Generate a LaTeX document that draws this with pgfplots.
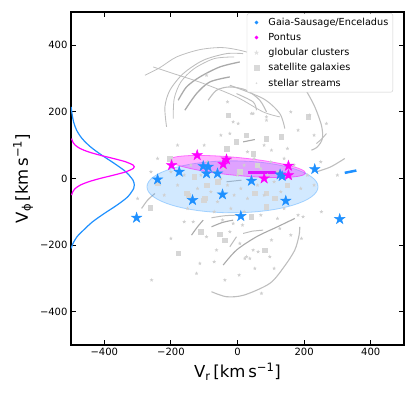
\documentclass[border=0pt]{standalone}
\usepackage{fontspec}
\setmainfont{DejaVu Sans}
\usepackage{pgfplots}
\pgfplotsset{compat=1.18}
\definecolor{gse}{RGB}{30,144,255}
\definecolor{pontus}{RGB}{255,0,255}
\definecolor{gclr}{RGB}{208,208,208}
\definecolor{sat}{RGB}{214,214,214}
\definecolor{strm}{RGB}{190,190,190}
\definecolor{strmd}{RGB}{170,170,170}

% filled five-pointed star, like matplotlib's '*'
\pgfdeclareplotmark{fstar}{%
  \pgfpathmoveto{\pgfpointpolar{90}{\pgfplotmarksize}}%
  \pgfpathlineto{\pgfpointpolar{126}{0.382*\pgfplotmarksize}}%
  \pgfpathlineto{\pgfpointpolar{162}{\pgfplotmarksize}}%
  \pgfpathlineto{\pgfpointpolar{198}{0.382*\pgfplotmarksize}}%
  \pgfpathlineto{\pgfpointpolar{234}{\pgfplotmarksize}}%
  \pgfpathlineto{\pgfpointpolar{270}{0.382*\pgfplotmarksize}}%
  \pgfpathlineto{\pgfpointpolar{306}{\pgfplotmarksize}}%
  \pgfpathlineto{\pgfpointpolar{342}{0.382*\pgfplotmarksize}}%
  \pgfpathlineto{\pgfpointpolar{18}{\pgfplotmarksize}}%
  \pgfpathlineto{\pgfpointpolar{54}{0.382*\pgfplotmarksize}}%
  \pgfpathclose\pgfusepathqfillstroke}

\begin{document}
\begin{tikzpicture}
\useasboundingbox (-71pt,-50pt) rectangle (344pt,345pt);
\begin{axis}[
    at={(0,0)}, anchor=south west,
    width=333pt, height=333pt, scale only axis,
    xmin=-500, xmax=500, ymin=-500, ymax=500,
    xtick={-400,-200,0,200,400}, ytick={-400,-200,0,200,400},
    xticklabels={−400,−200,0,200,400},
    yticklabels={−400,−200,0,200,400},
    tick align=inside, tick pos=both,
    major tick length=5pt,
    tick style={black, line width=0.8pt},
    axis line style={black, line width=1.6pt},
    tick label style={font=\fontsize{10}{12}\selectfont},
    label style={font=\fontsize{16.5}{18}\selectfont},
    xlabel={V\textsubscript{r}\,[km\,s\textsuperscript{−1}]},
    ylabel={V\textsubscript{ϕ}\,[km\,s\textsuperscript{−1}]},
    legend cell align=left,
    legend image code/.code={\path[draw=none,fill=none] (-3pt,0) (14pt,0);
        \path[draw=none] plot[#1] coordinates {(4pt,0)};},
    legend style={at={(0.967,0.996)}, anchor=north east, draw=black!20,
        rounded corners=2pt, fill=white, inner sep=2.5pt,
        font=\fontsize{9.7}{11.6}\selectfont, row sep=2.4pt},
]
% legend entries
\addlegendimage{only marks, mark=*, mark size=1.6pt, gse}
\addlegendentry{Gaia-Sausage/Enceladus}
\addlegendimage{only marks, mark=*, mark size=1.6pt, pontus}
\addlegendentry{Pontus}
\addlegendimage{only marks, mark=fstar, mark size=2pt, black!12}
\addlegendentry{globular clusters}
\addlegendimage{only marks, mark=square*, mark size=2.5pt, black!15}
\addlegendentry{satellite galaxies}
\addlegendimage{only marks, mark=*, mark size=0.6pt, black!15}
\addlegendentry{stellar streams}

% stellar streams
\addplot[strm, line width=0.8pt, smooth, forget plot] coordinates {(-278,310) (-233,333) (-183,365) (-113,387) (-43,393) (27,380) (87,355) (167,305) (207,265)};
\addplot[strm, line width=1.1pt, smooth, forget plot] coordinates {(197,280) (230,220) (252,160) (255,120) (240,95) (222,85)};
\addplot[strm, line width=0.8pt, smooth, forget plot] coordinates {(-253,335) (-183,312) (-104,286) (-3,245) (77,200) (127,185)};
\addplot[strm, line width=0.9pt, smooth, forget plot] coordinates {(-213,155) (-218,215) (-203,265) (-163,315) (-103,355) (-33,375) (17,375)};
\addplot[strm, line width=0.8pt, smooth, forget plot] coordinates {(-193,180) (-190,240) (-170,290) (-130,330) (-70,360) (-10,365)};
\addplot[strmd, line width=1.3pt, smooth, forget plot] coordinates {(-178,235) (-153,275) (-113,305) (-53,335) (7,350)};
\addplot[strmd, line width=1.3pt, smooth, forget plot] coordinates {(-158,205) (-123,255) (-83,290) (-23,305)};
\addplot[strm, line width=1.1pt, smooth, forget plot] coordinates {(-88,235) (-63,265) (-23,275) (27,265) (67,235) (87,200)};
\addplot[strm, line width=1pt, smooth, forget plot] coordinates {(-3,255) (47,230) (57,205)};
\addplot[strm, line width=1pt, smooth, forget plot] coordinates {(-23,280) (77,240) (127,195) (142,150)};
\addplot[strmd, line width=1.1pt, forget plot] coordinates {(17,110) (52,117)};
\addplot[strm, line width=1.1pt, smooth, forget plot] coordinates {(237,20) (280,35) (322,60)};
\addplot[strm, line width=1.1pt, smooth, forget plot] coordinates {(-288,-90) (-270,-65) (-248,-45)};
\addplot[strmd, line width=1.1pt, smooth, forget plot] coordinates {(-138,-170) (-120,-145) (-103,-125)};
\addplot[strmd, line width=1.1pt, smooth, forget plot] coordinates {(-78,-145) (-45,-132) (-13,-125)};
\addplot[strmd, line width=1.1pt, smooth, forget plot] coordinates {(-43,-260) (-3,-215) (57,-175) (120,-145) (172,-120)};
\addplot[strm, line width=1pt, forget plot] coordinates {(-23,-205) (-3,-175)};
\addplot[strm, line width=1.1pt, smooth, forget plot] coordinates {(-78,-340) (-33,-355) (20,-350) (97,-315) (140,-265) (172,-215) (185,-170) (187,-145)};
\addplot[strm, line width=1pt, forget plot] coordinates {(17,-165) (45,-158) (77,-155)};
\addplot[strm, line width=1pt, forget plot] coordinates {(-33,-10) (12,-5)};
\addplot[strm, line width=1pt, smooth, forget plot] coordinates {(237,105) (252,118) (267,135)};
\addplot[strm, line width=1pt, smooth, forget plot] coordinates {(-78,-118) (-40,-112) (0,-110)};

% satellite galaxies
\addplot[only marks, mark=square*, mark size=2.2pt, sat, forget plot] coordinates {
(-153,-45) (-98,-60) (-33,90) (27,130) (132,125) (-93,-20) (-263,-88)
(-111,-160) (-53,-168) (-38,-185) (-178,-225) (82,-215) (42,-115) (112,-60)
(87,-85) (212,185) (-3,110) (47,75) (-28,190) (-203,60) (7,20) (-60,-10)
(52,-45) (87,-45) (87,120) (-148,-50) (-101,-65) (-130,5) (150,-20) (60,40)
(-240,-15)};

% globular clusters
\addplot[only marks, mark=fstar, mark size=1.4pt, gclr, forget plot] coordinates {
(-133,-130) (-23,-160) (7,-195) (52,-270) (-113,-255) (-123,-285) (-258,-305)
(-38,-305) (-63,-215) (27,-235) (62,-220) (37,-240) (-93,-175) (-13,-135)
(182,-110) (197,-115) (252,-100) (192,-180) (72,-345) (22,-240) (102,-185)
(97,-235) (47,-215) (127,-150) (267,165) (102,85) (182,145) (-13,170) (2,165)
(217,190) (-23,135) (87,175) (47,195) (87,185) (42,195) (-93,310)
(-200,20) (-180,-20) (-160,10) (-140,40) (-120,-30) (-110,10) (-90,50)
(-80,-40) (-70,20) (-60,-70) (-50,0) (-40,30) (-30,-20) (-20,60) (-10,-50)
(0,10) (10,-30) (20,40) (30,-60) (40,0) (50,60) (60,-20) (70,30) (80,-50)
(90,10) (100,50) (110,-10) (120,20) (130,-40) (140,60) (160,0) (170,40)
(190,-30) (210,10) (230,-20) (250,50) (-220,-50) (-240,60) (-260,20)
(-150,-90) (-70,-100) (20,-100) (70,-110) (140,-90) (-100,100) (-50,130)
(30,80) (80,100) (150,90) (-180,100) (-300,-60) (300,10) (-20,-90)
(-45,-125) (15,-140) (120,-120) (-160,-130) (-200,-180) (160,-170)
(-70,-250) (110,-270) (5,-290) (-30,230) (160,200) (230,130)};

% distributions along V_phi
\addplot[gse, line width=1.2pt, smooth, forget plot] coordinates {
(-499.5,-210) (-494,-195) (-482,-175) (-462.4,-155)
(-435.2,-130) (-400,-105) (-362,-80) (-329.6,-55) (-311.7,-30) (-310,-20)
(-313.8,-5) (-335.2,20) (-369.5,45) (-407.5,70) (-441.4,95) (-466.7,120)
(-483.1,145) (-492.3,170) (-496.9,195) (-499.5,215)};
\addplot[pontus, line width=1.2pt, smooth, forget plot] coordinates {
(-498.1,-50) (-494.7,-40) (-487.2,-30) (-472.4,-20) (-447.7,-10) (-413,0)
(-372.5,10) (-335.4,20) (-313,30) (-310,35) (-313,40) (-335.4,50) (-372.5,60)
(-413,70) (-447.7,80) (-472.4,90) (-487.2,100) (-494.7,110) (-498.1,120)};

% stream pieces of the two groups
\addplot[pontus, line width=2.5pt, forget plot] coordinates {(32,18) (127,18)};
\addplot[gse, line width=2.5pt, forget plot] coordinates {(322,17) (357,24)};

% Gaia-Sausage/Enceladus members
\addplot[only marks, mark=fstar, mark size=5.5pt, gse, forget plot] coordinates {
(-240,-3) (-175,20) (-303,-118) (-135,-65) (-103,37) (-88,35) (-93,15) (-60,15)
(-45,-48) (10,-113) (42,-7) (134,7) (145,-67) (232,28) (307,-122) (128,12)};
% Pontus members
\addplot[only marks, mark=fstar, mark size=5.5pt, pontus, forget plot] coordinates {
(-198,40) (-121,70) (-33,57) (-43,43) (80,0) (153,38) (153,10)};

% dispersion ellipses
\draw[gse, draw opacity=0.35, fill=gse, fill opacity=0.2, line width=0.8pt]
    (axis cs:-15,-25) ellipse [x radius=257, y radius=78];
\draw[pontus, draw opacity=0.5, fill=pontus, fill opacity=0.3, line width=0.8pt,
    rotate around={-5.5:(axis cs:0,36)}]
    (axis cs:0,36) ellipse [x radius=205, y radius=27];
\end{axis}
\end{tikzpicture}
\end{document}
